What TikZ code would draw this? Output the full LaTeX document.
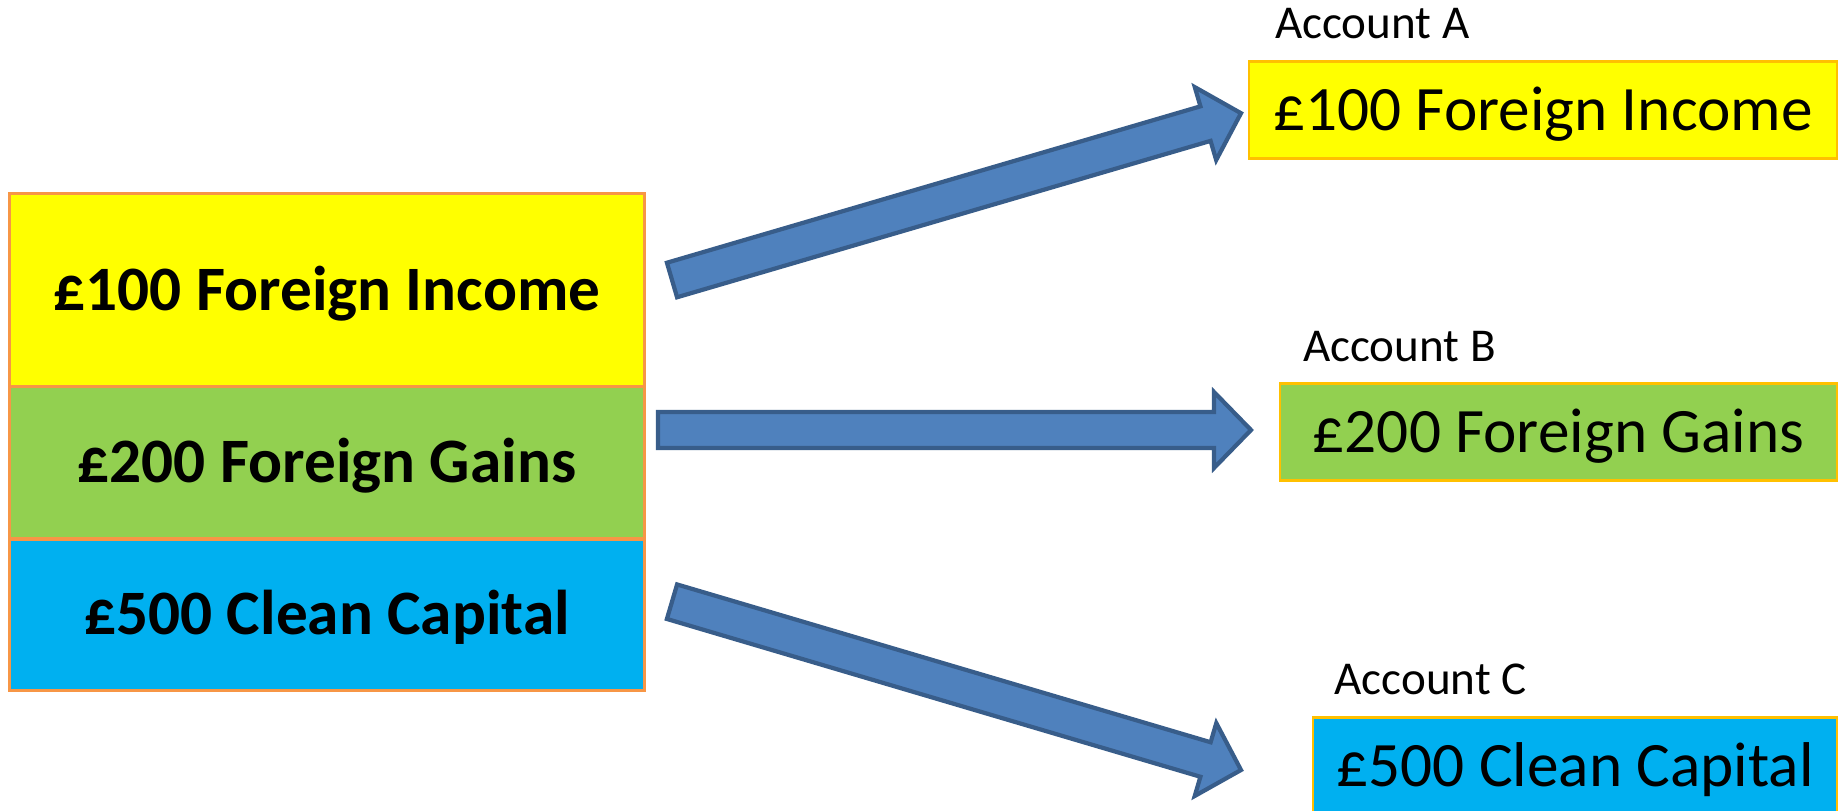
\documentclass[tikz,border=0pt]{standalone}
\usepackage{fontspec}
\setmainfont{Carlito}
\usetikzlibrary{calc,positioning}
\definecolor{incyellow}{HTML}{FFFF00}
\definecolor{gaingreen}{HTML}{92D050}
\definecolor{capblue}{HTML}{00B0F0}
\definecolor{stackline}{HTML}{F79646}
\definecolor{boxline}{HTML}{FFC000}
\definecolor{arrfill}{HTML}{4F81BD}
\definecolor{arrline}{HTML}{385D8A}
\tikzset{
  stackrow/.style={draw=stackline,line width=1pt,minimum width=6.352cm,inner sep=0pt,outer sep=0pt,
    text height=11.5pt,text depth=0pt,font=\fontsize{18}{22}\selectfont\bfseries},
  acctbox/.style={draw=boxline,line width=0.8pt,minimum height=0.97cm,inner sep=0pt,outer sep=0pt,
    text height=11.6pt,text depth=0pt,font=\fontsize{18}{22}\selectfont},
  acctlabel/.style={inner sep=0pt,anchor=base west,font=\fontsize{13.4}{16}\selectfont},
  bigarrow/.style={fill=arrfill,draw=arrline,line width=1.2pt,line join=miter}
}
% block arrow from #1 to #2
\newcommand{\blockarrow}[2]{%
  \coordinate (#1-neck) at ($(#2)!0.37cm!(#1)$);
  \draw[bigarrow] ($(#1)!0.18cm!90:(#2)$) -- ($(#1-neck)!0.18cm!90:(#2)$)
    -- ($(#1-neck)!0.38cm!90:(#2)$) -- (#2)
    -- ($(#1-neck)!0.38cm!-90:(#2)$) -- ($(#1-neck)!0.18cm!-90:(#2)$)
    -- ($(#1)!0.18cm!-90:(#2)$) -- cycle;}
\begin{document}
\begin{tikzpicture}
\useasboundingbox (0,0) rectangle (18.41,8.10);
% left stack
\node[stackrow,fill=incyellow,minimum height=1.926cm] (inc) at (3.27,5.2) {£100 Foreign Income};
\node[stackrow,fill=gaingreen,minimum height=1.526cm,below=0pt of inc] (gain) {£200 Foreign Gains};
\node[stackrow,fill=capblue,minimum height=1.514cm,below=0pt of gain] (cap) {£500 Clean Capital};
% accounts
\node[acctbox,fill=incyellow,minimum width=5.88cm] (accA) at (15.43,6.998) {£100 Foreign Income};
\node[acctbox,fill=gaingreen,minimum width=5.57cm] (accB) at (15.585,3.778) {£200 Foreign Gains};
\node[acctbox,fill=capblue,minimum width=5.24cm] (accC) at (15.75,0.44) {£500 Clean Capital};
\node[acctlabel] (labA) at ($(accA.north west)+(0.255,0.233)$) {Account A};
\node[acctlabel] (labB) at ($(accB.north west)+(0.225,0.219)$) {Account B};
\node[acctlabel] (labC) at ($(accC.north west)+(0.21,0.228)$) {Account C};
% arrows
\coordinate (incout) at ($(inc.east)+(0.274,0.10)$);
\coordinate (gainout) at ($(gain.east)+(0.134,0.326)$);
\coordinate (capout) at ($(cap.east)+(0.274,0.129)$);
\coordinate (accAin) at ($(accA.west)+(-0.08,-0.03)$);
\coordinate (accBin) at ($(accB.west)+(-0.29,0.022)$);
\coordinate (accCin) at ($(accC.west)+(-0.72,-0.04)$);
\blockarrow{incout}{accAin}
\blockarrow{gainout}{accBin}
\blockarrow{capout}{accCin}
\end{tikzpicture}
\end{document}
